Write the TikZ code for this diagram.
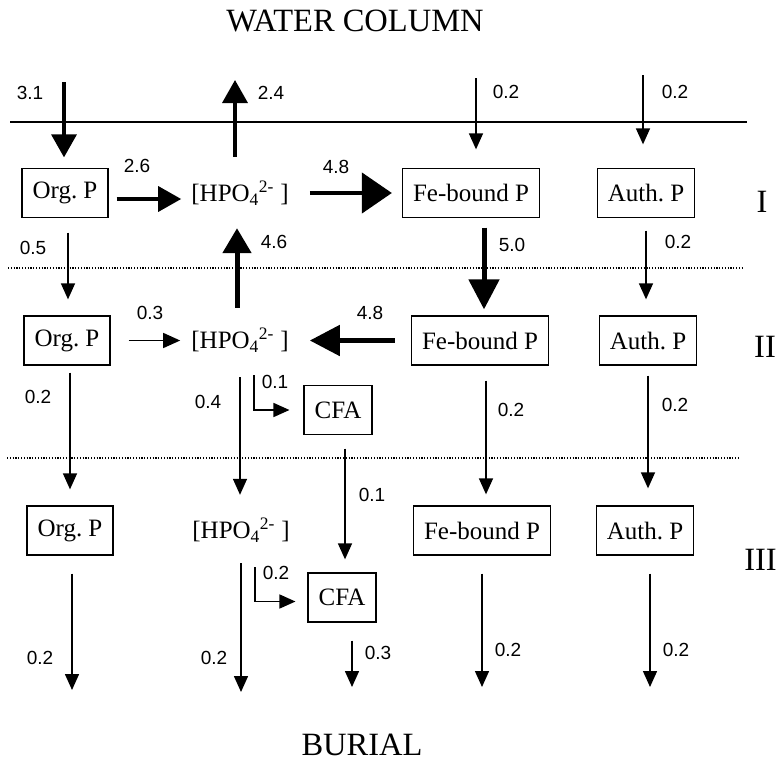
\documentclass[tikz,border=0pt]{standalone}
\usepackage{fontspec}
\setmainfont{Liberation Serif}
\newfontfamily\numfont{Liberation Sans}
\usetikzlibrary{arrows.meta}
\begin{document}
\begin{tikzpicture}[x=1pt,y=-1pt,
 box/.style={draw, line width=1.3pt, minimum height=49pt, inner xsep=10.5pt, inner ysep=0pt, font=\fontsize{25}{28}\selectfont},
 ion/.style={minimum height=49pt, inner sep=0pt, font=\fontsize{25}{28}\selectfont},
 num/.style={font=\numfont\fontsize{19}{21}\selectfont, inner sep=0pt},
 big/.style={font=\fontsize{32.5}{36}\selectfont, inner sep=0pt, anchor=base},
 thinarr/.style={line width=1.5pt, -{Triangle[length=16pt,width=14pt]}},
 medarr/.style={line width=3.5pt, -{Triangle[length=23pt,width=25pt]}},
 heavyarr/.style={line width=5pt, -{Triangle[length=30pt,width=36pt]}},
 layer/.style={line width=2pt},
 dotline/.style={line width=1.5pt, dash pattern=on 1.2pt off 1.6pt}
]
\useasboundingbox (0,0) rectangle (778,763);

% titles and layer labels
\node[big] (wc) at (355,31) {WATER COLUMN};
\node[big] (bur) at (362,755) {BURIAL};
\node[big] (rI) at (762,212) {I};
\node[big] (rII) at (765,357) {II};
\node[big, anchor=base east] (rIII) at (777,570) {III};

% interfaces
\coordinate (s1) at (10,122); \coordinate (s2) at (747,122);
\coordinate (d1) at (8,268); \coordinate (d2) at (742,268);
\coordinate (e1) at (7,458); \coordinate (e2) at (738,458);
\draw[layer] (s1) -- (s2);
\draw[dotline] (d1) -- (d2);
\draw[dotline] (e1) -- (e2);

% row I
\node[box] (orgI) at (65,193) {Org.\ P};
\node[ion] (hpoI) at (240,193) {[HPO\textsubscript{4}\textsuperscript{2-} ]};
\node[box] (feI) at (471,193) {Fe-bound P};
\node[box] (authI) at (646,193) {Auth.\ P};
% row II
\node[box] (orgII) at (67,340.5) {Org.\ P};
\node[ion] (hpoII) at (240,340.5) {[HPO\textsubscript{4}\textsuperscript{2-} ]};
\node[box] (feII) at (480,340.5) {Fe-bound P};
\node[box] (authII) at (648,340.5) {Auth.\ P};
\node[box] (cfaII) at (338,410) {CFA};
% row III
\node[box] (orgIII) at (70,530.5) {Org.\ P};
\node[ion] (hpoIII) at (241,530.5) {[HPO\textsubscript{4}\textsuperscript{2-} ]};
\node[box] (feIII) at (482,530.5) {Fe-bound P};
\node[box] (authIII) at (645,530.5) {Auth.\ P};
\node[box] (cfaIII) at (342,597.5) {CFA};

% free ends
\coordinate (wc1) at (64,82);
\coordinate (wc2) at (235,80);
\coordinate (wc3) at (476,78);
\coordinate (wc4) at (643,75);
\coordinate (b1) at (72,690);
\coordinate (b2) at (241,692);
\coordinate (b3) at (352,687);
\coordinate (b4) at (482,687);
\coordinate (b5) at (650,687);

% water column exchanges
\draw[medarr, shorten >=10.5pt] (wc1) -- (wc1 |- orgI.north);
\draw[medarr, shorten <=11.5pt] (wc2 |- hpoI.north) -- (wc2);
\draw[thinarr, shorten >=18.5pt] (wc3) -- (wc3 |- feI.north);
\draw[thinarr, shorten >=23.5pt] (wc4) -- (wc4 |- authI.north);

% row I horizontal
\draw[medarr, shorten <=8pt, shorten >=10pt] ([yshift=-6pt]orgI.east) -- ([yshift=-6pt]hpoI.west);
\draw[heavyarr, line width=4.5pt, -{Triangle[length=30pt,width=40pt]}, shorten <=21pt, shorten >=10pt] (hpoI.east) -- (feI.west);

% I -> II
\draw[thinarr, shorten <=14.5pt, shorten >=16pt] ([xshift=3pt]orgI.south) -- ([xshift=3pt]orgI.south |- orgII.north);
\draw[heavyarr, -{Triangle[length=25pt,width=28pt]}, shorten <=8pt, shorten >=10.5pt] ([xshift=-3pt]hpoII.north) -- ([xshift=-3pt]hpoI.south);
\draw[heavyarr, -{Triangle[length=30pt,width=30pt]}, shorten <=9.5pt, shorten >=6pt] ([xshift=13pt]feI.south) -- ([xshift=13pt]feI.south |- feII.north);
\draw[thinarr, shorten <=12.5pt, shorten >=16pt] (authI.south) -- (authI.south |- authII.north);

% row II horizontal
\draw[thinarr, -{Triangle[length=17pt,width=15pt]}, shorten <=18pt, shorten >=11pt] (orgII.east) -- (hpoII.west);
\draw[heavyarr, -{Triangle[length=30pt,width=30pt]}, shorten <=16pt, shorten >=21pt] (feII.west) -- (hpoII.east);

% II -> III
\draw[thinarr, shorten <=7pt, shorten >=16pt] ([xshift=3pt]orgII.south) -- ([xshift=3pt]orgII.south |- orgIII.north);
\draw[thinarr, shorten <=12pt, shorten >=11pt] (hpoII.south) -- (hpoII.south |- hpoIII.north);
\draw[thinarr, shorten <=10pt, shorten >=14pt] ([xshift=14pt]hpoII.south) |- (cfaII.west);
\draw[thinarr, shorten <=13.5pt, shorten >=13pt] ([xshift=7pt]cfaII.south) -- ([xshift=7pt]cfaII.south |- cfaIII.north);
\draw[thinarr, shorten <=15pt, shorten >=11pt] ([xshift=6pt]feII.south) -- ([xshift=6pt]feII.south |- feIII.north);
\draw[thinarr, shorten <=10pt, shorten >=17pt] (authII.south) -- (authII.south |- authIII.north);

% III -> burial
\draw[thinarr, shorten <=18pt] (b1 |- orgIII.south) -- (b1);
\draw[thinarr, shorten <=8pt] (b2 |- hpoIII.south) -- (b2);
\draw[thinarr, shorten <=12pt, shorten >=12pt] ([xshift=14pt]hpoIII.south) |- ([yshift=-4pt]cfaIII.west);
\draw[thinarr, shorten <=18pt] (b3 |- cfaIII.south) -- (b3);
\draw[thinarr, shorten <=18pt] (b4 |- feIII.south) -- (b4);
\draw[thinarr, shorten <=18pt] (b5 |- authIII.south) -- (b5);

% flux labels
\node[num] (n1) at (30,93) {3.1};
\node[num] (n2) at (271,93) {2.4};
\node[num] (n3) at (506,92) {0.2};
\node[num] (n4) at (675,92) {0.2};
\node[num] (n5) at (137,166) {2.6};
\node[num] (n6) at (336,167) {4.8};
\node[num] (n7) at (33,248) {0.5};
\node[num] (n8) at (274,242) {4.6};
\node[num] (n9) at (512,245) {5.0};
\node[num] (n10) at (678,242) {0.2};
\node[num] (n11) at (150,313) {0.3};
\node[num] (n12) at (370,313) {4.8};
\node[num] (n13) at (38,397) {0.2};
\node[num] (n14) at (208,402) {0.4};
\node[num] (n15) at (275,382) {0.1};
\node[num] (n16) at (372,495) {0.1};
\node[num] (n17) at (511,410) {0.2};
\node[num] (n18) at (675,405) {0.2};
\node[num] (n19) at (40,658) {0.2};
\node[num] (n20) at (214,658) {0.2};
\node[num] (n21) at (276,573) {0.2};
\node[num] (n22) at (378,653) {0.3};
\node[num] (n23) at (508,650) {0.2};
\node[num] (n24) at (676,650) {0.2};
\end{tikzpicture}
\end{document}
